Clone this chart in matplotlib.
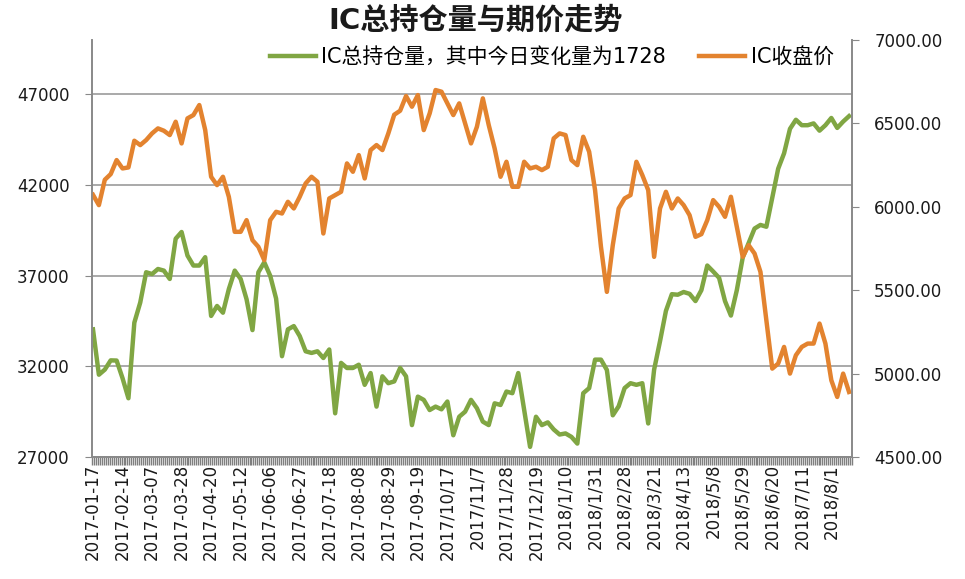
import numpy as np
import matplotlib
matplotlib.use('Agg')
import matplotlib.pyplot as plt
from matplotlib.ticker import FuncFormatter

# DejaVu for digits and Latin, Noto CJK for the Chinese characters
plt.rcParams['font.family'] = ['DejaVu Sans', 'Noto Sans CJK SC']

# one reading every third trading day, 386 trading days in total
step = 3
n_days = 386
label_every = 15

date_labels = [
    '2017-01-17', '2017-02-14', '2017-03-07', '2017-03-28', '2017-04-20',
    '2017-05-12', '2017-06-06', '2017-06-27', '2017-07-18', '2017-08-08',
    '2017-08-29', '2017-09-19', '2017/10/17', '2017/11/7', '2017/11/28',
    '2017/12/19', '2018/1/10', '2018/1/31', '2018/2/28', '2018/3/21',
    '2018/4/13', '2018/5/8', '2018/5/29', '2018/6/20', '2018/7/11', '2018/8/1',
]

# IC total open interest (left axis)
open_interest = [
    34040, 31540, 31820, 32330, 32320, 31350, 30240, 34410, 35520, 37190,
    37090, 37370, 37280, 36820, 39040, 39410, 38110, 37560, 37560, 38020,
    34780, 35330, 34960, 36260, 37280, 36820, 35700, 34000, 37190, 37740,
    37000, 35740, 32560, 34040, 34220, 33670, 32830, 32740, 32830, 32460,
    32930, 29410, 32190, 31910, 31910, 32090, 30980, 31630, 29780, 31450,
    31070, 31170, 31910, 31450, 28760, 30330, 30150, 29590, 29780, 29630,
    30060, 28200, 29220, 29500, 30150, 29690, 28950, 28760, 29960, 29870,
    30610, 30520, 31630, 29590, 27560, 29220, 28760, 28910, 28520, 28240,
    28300, 28110, 27740, 30520, 30800, 32370, 32370, 31800, 29300, 29800,
    30800, 31070, 30980, 31070, 28850, 31820, 33390, 35060, 35980, 35950,
    36100, 36000, 35600, 36200, 37560, 37230, 36880, 35600, 34800, 36200,
    38000, 38800, 39600, 39800, 39700, 41300, 42900, 43750, 45100, 45600,
    45300, 45300, 45400, 45000, 45300, 45700, 45150, 45500, 45800,
]

# IC close price (right axis)
close_price = [
    6072, 6010, 6162, 6196, 6280, 6230, 6236, 6396, 6370, 6400,
    6440, 6470, 6456, 6430, 6510, 6380, 6530, 6550, 6610, 6460,
    6180, 6130, 6180, 6060, 5850, 5850, 5920, 5800, 5760, 5680,
    5920, 5970, 5960, 6030, 5990, 6060, 6140, 6180, 6150, 5840,
    6050, 6070, 6090, 6260, 6210, 6310, 6170, 6340, 6370, 6340,
    6440, 6552, 6576, 6664, 6600, 6670, 6460, 6560, 6700, 6690,
    6620, 6550, 6620, 6500, 6380, 6480, 6650, 6490, 6350, 6180,
    6270, 6120, 6120, 6270, 6230, 6240, 6220, 6240, 6410, 6440,
    6430, 6280, 6250, 6420, 6330, 6100, 5760, 5490, 5770, 5990,
    6050, 6070, 6270, 6190, 6100, 5700, 5990, 6090, 5990, 6050,
    6010, 5950, 5820, 5836, 5920, 6040, 6000, 5940, 6060, 5880,
    5700, 5770, 5720, 5610, 5320, 5030, 5060, 5160, 5000, 5110,
    5160, 5180, 5180, 5300, 5180, 4960, 4860, 5000, 4890,
]

green = '#80A643'
orange = '#E3832F'
axis_grey = '#898989'

fig = plt.figure(figsize=(9.65, 5.79), dpi=100)
ax = fig.add_axes([92 / 965, 1 - 457 / 579, 760 / 965, 417 / 579])
ax2 = ax.twinx()

x = np.arange(len(open_interest)) * step
l1, = ax.plot(x, open_interest, color=green, lw=3.2, solid_joinstyle='round')
l2, = ax2.plot(x, close_price, color=orange, lw=3.2, solid_joinstyle='round')

ax.set_xlim(-0.5, n_days - 0.5)
ax.set_ylim(27000, 50000)
ax.set_yticks(np.arange(27000, 47001, 5000))
ax2.set_ylim(4500, 7000)
ax2.set_yticks(np.arange(4500, 7001, 500))
ax2.yaxis.set_major_formatter(FuncFormatter(lambda v, p: f'{v:.2f}'))

ax.yaxis.grid(True, color='#a3a3a3', lw=1.3)
ax.set_axisbelow(True)

ax.set_xticks(np.arange(len(date_labels)) * label_every)
ax.set_xticklabels(date_labels, rotation=90)
ax.set_xticks(np.arange(-0.5, n_days, 1), minor=True)
ax.tick_params(axis='x', which='major', length=0, pad=5, labelsize=12, labelcolor='#1a1a1a')
ax.tick_params(axis='x', which='minor', length=6, color='#7f7f7f', width=1)
ax.tick_params(axis='y', length=5, color=axis_grey, pad=11, labelsize=12, labelcolor='#1a1a1a')
ax2.tick_params(axis='y', length=5, color=axis_grey, pad=11, labelsize=12, labelcolor='#1a1a1a')

for a in (ax, ax2):
    a.spines['top'].set_visible(False)
    for s in ('left', 'right', 'bottom'):
        a.spines[s].set_color(axis_grey)
        a.spines[s].set_linewidth(1.2)

fig.text(476 / 965, 1 - 20 / 579, 'IC总持仓量与期价走势', ha='center', va='center',
         fontsize=21, fontweight='bold', color='#1a1a1a')

fig.legend([l1, l2], ['IC总持仓量，其中今日变化量为1728', 'IC收盘价'],
           loc='center', bbox_to_anchor=(552 / 965, 1 - 57 / 579), ncol=2,
           frameon=False, fontsize=15, handlelength=2.2, handletextpad=0.25,
           columnspacing=1.6)

fig.savefig('out.png', dpi=100)
